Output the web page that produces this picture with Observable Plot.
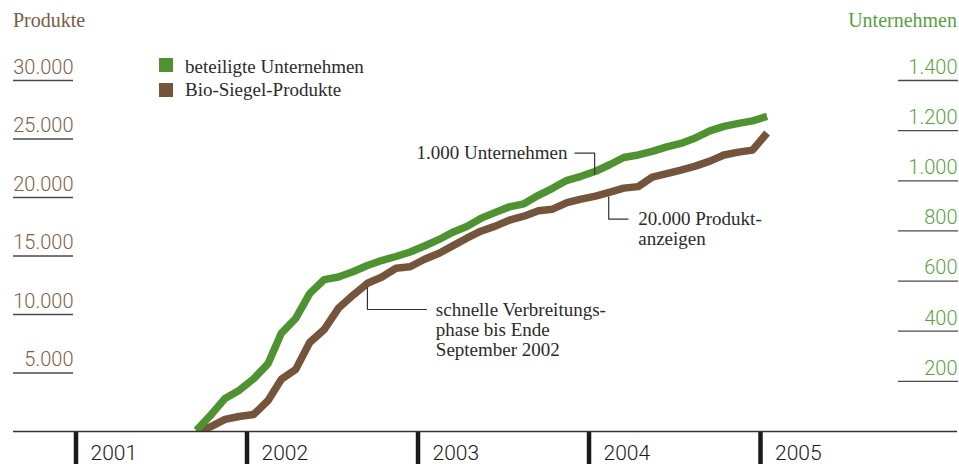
<!DOCTYPE html>
<html>
<head>
<meta charset="utf-8">
<script src="https://cdn.jsdelivr.net/npm/d3@7"></script>
<script src="https://cdn.jsdelivr.net/npm/@observablehq/plot@0.6"></script>
<style>
  body { margin: 0; background: #fff; }
  #wrap { position: relative; width: 959px; height: 464px; overflow: hidden; }
  #wrap svg { position: absolute; left: 0; top: 0; }
  .t { position: absolute; font-family: "Liberation Serif", "Times New Roman", serif; line-height: 1; white-space: nowrap; }
  .sw { position: absolute; width: 14px; height: 14px; }
</style>
</head>
<body>
<div id="wrap">
  <div class="t" style="left:13px;top:10px;font-size:20px;color:#7a5b47;">Produkte</div>
  <div class="t" style="right:2px;top:10px;font-size:20px;color:#5a9e44;">Unternehmen</div>
  <div class="sw" style="left:159px;top:58px;background:#4f9232;"></div>
  <div class="t" style="left:185px;top:57px;font-size:19px;color:#2b2b2b;">beteiligte Unternehmen</div>
  <div class="sw" style="left:159px;top:83px;background:#74543b;"></div>
  <div class="t" style="left:185px;top:80px;font-size:19px;color:#2b2b2b;">Bio-Siegel-Produkte</div>
</div>
<script>
// ---- data ----
const months = [
  "2001-09","2001-10","2001-11","2001-12",
  "2002-01","2002-02","2002-03","2002-04","2002-05","2002-06","2002-07","2002-08","2002-09","2002-10","2002-11","2002-12",
  "2003-01","2003-02","2003-03","2003-04","2003-05","2003-06","2003-07","2003-08","2003-09","2003-10","2003-11","2003-12",
  "2004-01","2004-02","2004-03","2004-04","2004-05","2004-06","2004-07","2004-08","2004-09","2004-10","2004-11","2004-12",
  "2005-01"
];
// beteiligte Unternehmen (right axis)
const companies = [5, 64, 132, 164, 210, 271, 391, 451, 551, 606, 616, 637, 662, 682, 698, 716, 740, 766, 794, 818, 850, 874, 896, 908, 942, 970, 1002, 1018, 1038, 1065, 1093, 1103, 1117, 1135, 1149, 1171, 1199, 1217, 1229, 1239, 1257];
// Bio-Siegel-Produkte (left axis)
const products = [0, 400, 1030, 1280, 1450, 2650, 4450, 5310, 7620, 8730, 10530, 11640, 12670, 13180, 13950, 14080, 14720, 15240, 15840, 16520, 17120, 17550, 18060, 18400, 18870, 19000, 19560, 19860, 20120, 20460, 20800, 20930, 21740, 22040, 22340, 22680, 23110, 23630, 23880, 24050, 25510];

const leftTicks = [5000, 10000, 15000, 20000, 25000, 30000];
const rightTicks = [200, 400, 600, 800, 1000, 1200, 1400];
const yearTicks = ["2001", "2002", "2003", "2004", "2005"];

// annotations: anchor on line (date, value), corner value, connector end date, text date/value
const annotations = [
  {label: "1.000 Unternehmen", ax: "2004-01-13", ay: 21966, cy: 23786, ex: "2003-12-01", tx: "2003-11-16", ty: 23786, side: "end"},
  {label: "20.000 Produkt-\nanzeigen", ax: "2004-02-12", ay: 20085, cy: 18145, ex: "2004-03-25", tx: "2004-04-15", ty: 17316, side: "start"},
  {label: "schnelle Verbreitungs-\nphase bis Ende\nSeptember 2002", ax: "2002-09-15", ay: 12308, cy: 10427, ex: "2003-01-20", tx: "2003-02-08", ty: 8744, side: "start"}
];

// ---- build ----
const GREEN = "#4f9232", BROWN = "#74543b";
const K = 30000 / 1400; // companies -> left-axis units
const fmt = d3.formatLocale({decimal: ",", thousands: ".", grouping: [3], currency: ["", " €"]}).format(",");
const day = s => new Date(s + "T00:00:00Z");
const rows = months.map((m, i) => ({date: day(m + "-15"), companies: companies[i], products: products[i]}));
const years = yearTicks.map(y => day(y + "-01-01"));
const ann = annotations.map(a => ({...a, ax: day(a.ax), ex: day(a.ex), tx: day(a.tx)}));
const connectors = ann.flatMap((a, i) => [
  {i, x: a.ax, y: a.ay}, {i, x: a.ax, y: a.cy}, {i, x: a.ex, y: a.cy}
]);
const SANS = "Roboto, Liberation Sans, Arial, sans-serif";
const SERIF = "Liberation Serif, Times New Roman, serif";

const chart = Plot.plot({
  width: 959,
  height: 464,
  marginTop: 80,
  marginBottom: 33,
  marginLeft: 73,
  marginRight: 62,
  style: {background: "transparent", overflow: "visible"},
  x: {type: "utc", domain: [day("2001-01-01"), day("2005-01-01")], range: [75.5, 760], label: null},
  y: {domain: [0, 30000], range: [431, 80], label: null},
  marks: [
    // left axis: underline ticks + labels
    Plot.axisY(leftTicks, {anchor: "left", tickSize: 60, text: null, stroke: "#4a4a4a", strokeWidth: 1.3, label: null}),
    Plot.axisY(leftTicks, {anchor: "left", tickSize: 0, tickPadding: 0, dy: -13, tickFormat: fmt, fill: "#7d5f4b", fontSize: 20, fontWeight: 300, fontFamily: SANS, label: null}),
    // right axis
    Plot.axisY(rightTicks.map(c => c * K), {anchor: "right", tickSize: 60, text: null, stroke: "#4a4a4a", strokeWidth: 1.3, label: null}),
    Plot.axisY(rightTicks.map(c => c * K), {anchor: "right", tickSize: 0, tickPadding: 0, dx: 60, dy: -13, textAnchor: "end", tickFormat: v => fmt(Math.round(v / K)), fill: "#5b9f45", fontSize: 20, fontWeight: 300, fontFamily: SANS, label: null}),
    // year ticks & labels
    Plot.axisX(years, {anchor: "bottom", tickSize: 33, text: null, stroke: "#1a1a1a", strokeWidth: 4.5, label: null}),
    Plot.axisX(years, {anchor: "bottom", tickSize: 0, tickPadding: 14, dx: 14.5, textAnchor: "start", tickFormat: d3.utcFormat("%Y"), fill: "#1a1a1a", fontSize: 21, fontWeight: 300, fontFamily: SANS, label: null}),
    // data lines
    Plot.line(rows, {x: "date", y: "products", stroke: BROWN, strokeWidth: 7.5, strokeLinecap: "butt", strokeLinejoin: "round", clip: true}),
    Plot.line(rows, {x: "date", y: d => d.companies * K, stroke: GREEN, strokeWidth: 7.5, strokeLinecap: "butt", strokeLinejoin: "round", clip: true}),
    // baseline
    Plot.ruleY([0], {insetLeft: -60, insetRight: -60, stroke: "#333", strokeWidth: 1.6}),
    // annotations
    Plot.line(connectors, {x: "x", y: "y", z: "i", stroke: "#333", strokeWidth: 1.2, strokeLinejoin: "miter", strokeLinecap: "butt"}),
    Plot.text(ann.filter(a => a.side === "end"), {x: "tx", y: "ty", text: "label", textAnchor: "end", lineAnchor: "middle", fontSize: 19, fontFamily: SERIF, fill: "#2b2b2b"}),
    Plot.text(ann.filter(a => a.side === "start"), {x: "tx", y: "ty", text: "label", textAnchor: "start", lineAnchor: "middle", lineHeight: 1.05, fontSize: 19, fontFamily: SERIF, fill: "#2b2b2b"})
  ]
});
document.getElementById("wrap").prepend(chart);
</script>
</body>
</html>
